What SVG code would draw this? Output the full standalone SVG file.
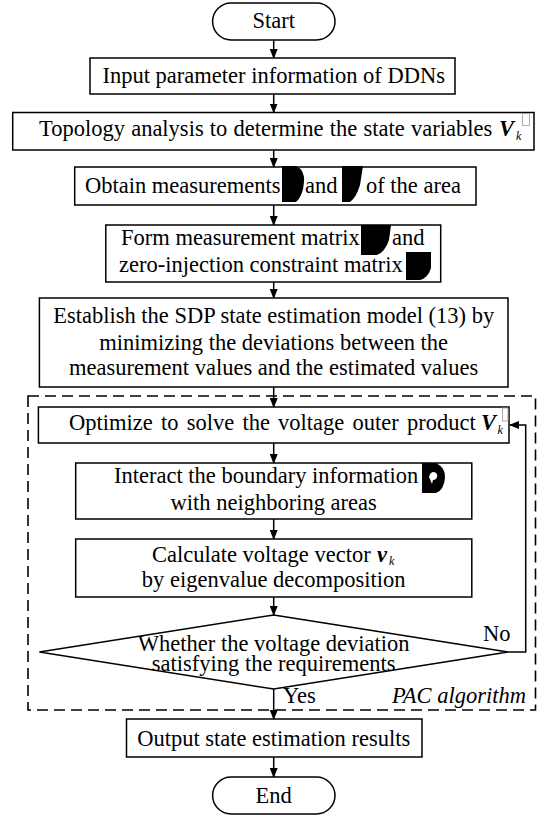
<svg xmlns="http://www.w3.org/2000/svg" width="542" height="815" viewBox="0 0 542 815">
<style>
.box{fill:#fff;stroke:#000;stroke-width:1.5}
.t{font-family:"Liberation Serif","Times New Roman",serif;font-size:22.5px;fill:#000}
.c{text-anchor:middle}
.bi{font-weight:bold;font-style:italic}
.sub{font-style:italic;font-size:12px}
.ln{stroke:#000;stroke-width:1.5;fill:none}
.blob{fill:#000}
.tofu{fill:none;stroke:#999;stroke-width:0.8}
.dash{fill:none;stroke:#000;stroke-width:1.6;stroke-dasharray:11 6}
</style>
<defs>
<marker id="ah" markerWidth="10" markerHeight="8" refX="9" refY="4" orient="auto" markerUnits="userSpaceOnUse"><path d="M0,0 L10,4 L0,8 z" fill="#000"/></marker>
</defs>
<rect width="542" height="815" fill="#fff"/>
<g id="pac-region">
<rect class="dash" x="28" y="396" width="507.5" height="314"/>
<text class="t" x="392" y="703" font-style="italic">PAC algorithm</text>
</g>
<g id="connectors">
<line class="ln" x1="273.7" y1="40" x2="273.7" y2="58" marker-end="url(#ah)"/>
<line class="ln" x1="273.7" y1="94" x2="273.7" y2="112.5" marker-end="url(#ah)"/>
<line class="ln" x1="273.7" y1="150" x2="273.7" y2="167" marker-end="url(#ah)"/>
<line class="ln" x1="273.7" y1="205" x2="273.7" y2="225" marker-end="url(#ah)"/>
<line class="ln" x1="273.7" y1="282" x2="273.7" y2="298" marker-end="url(#ah)"/>
<line class="ln" x1="273.7" y1="387" x2="273.7" y2="407" marker-end="url(#ah)"/>
<line class="ln" x1="273.7" y1="443" x2="273.7" y2="463" marker-end="url(#ah)"/>
<line class="ln" x1="273.7" y1="519" x2="273.7" y2="539" marker-end="url(#ah)"/>
<line class="ln" x1="273.7" y1="597" x2="273.7" y2="615" marker-end="url(#ah)"/>
<line class="ln" x1="273.7" y1="689" x2="273.7" y2="719" marker-end="url(#ah)"/>
<line class="ln" x1="273.7" y1="757" x2="273.7" y2="777" marker-end="url(#ah)"/>
<polyline class="ln" points="508,652 525.7,652 525.7,425 510,425" marker-end="url(#ah)"/>
<text class="t" x="483" y="641">No</text>
<text class="t" x="283" y="703">Yes</text>
</g>
<g id="start">
<rect class="box" x="212.6" y="3" width="122.4" height="37" rx="18.5"/>
<text class="t c" x="273.7" y="28">Start</text>
</g>
<g id="input">
<rect class="box" x="90" y="58" width="365" height="36"/>
<text class="t c" x="273.7" y="83">Input parameter information of DDNs</text>
</g>
<g id="topology">
<rect class="box" x="12.7" y="112.5" width="521.3" height="37.5"/>
<text class="t" x="39" y="136" word-spacing="0.6">Topology analysis to determine the state variables<tspan class="bi" x="499">V</tspan><tspan class="sub" x="516" dy="4">k</tspan></text>
<rect class="tofu" x="522.5" y="113.5" width="7" height="12"/>
</g>
<g id="obtain">
<rect class="box" x="74.7" y="167" width="401.3" height="38"/>
<text class="t" x="85" y="193">Obtain measurements</text>
<path class="blob" d="M282,166 L296,166 Q305,170 304,182 Q303,196 296,202 L282,202 Z"/>
<text class="t" x="305" y="193">and</text>
<path class="blob" d="M342,166 L363,166 L360,185 Q356,198 350,202 L342,202 Z"/>
<text class="t" x="366" y="193">of the area</text>
</g>
<g id="form">
<rect class="box" x="105.8" y="225" width="334.9" height="57"/>
<text class="t" x="121" y="245">Form measurement matrix</text>
<path class="blob" d="M361,225 L391,225 L389,240 Q385,252 377,255 L361,255 Z"/>
<text class="t" x="392" y="245">and</text>
<text class="t" x="119" y="272">zero-injection constraint matrix</text>
<path class="blob" d="M406,252 L431,252 L431,268 Q428,278 420,280 L406,280 Z"/>
</g>
<g id="establish">
<rect class="box" x="39.4" y="298" width="468.6" height="89"/>
<text class="t c" x="273.7" y="323">Establish the SDP state estimation model (13) by</text>
<text class="t c" x="273.7" y="350">minimizing the deviations between the</text>
<text class="t c" x="273.7" y="375">measurement values and the estimated values</text>
</g>
<g id="optimize">
<rect class="box" x="38.4" y="407" width="470.6" height="36"/>
<text class="t" x="69" y="430" word-spacing="2.6">Optimize to solve the voltage outer product<tspan class="bi" x="481">V</tspan><tspan class="sub" x="497.5" dy="4">k</tspan></text>
<rect class="tofu" x="502.5" y="408" width="5.5" height="13"/>
</g>
<g id="interact">
<rect class="box" x="75.7" y="463" width="396.1" height="56"/>
<text class="t" x="114" y="483">Interact the boundary information</text>
<path class="blob" d="M422,463 L436,463 Q446,468 445,478 Q444,490 436,493 L422,493 Z"/>
<path d="M429,477 Q430,472 434,472 Q438,473 437,477 Q436,480 433,480 L432,484 Z" fill="#fff"/>
<text class="t c" x="273.7" y="510">with neighboring areas</text>
</g>
<g id="calculate">
<rect class="box" x="75.7" y="539" width="396.1" height="58"/>
<text class="t" x="152" y="562">Calculate voltage vector<tspan class="bi" x="377">v</tspan><tspan class="sub" x="389" dy="3">k</tspan></text>
<text class="t c" x="273.7" y="587">by eigenvalue decomposition</text>
</g>
<g id="decision">
<polygon class="box" points="273.7,615 508,652 273.7,689 39.4,652"/>
<text class="t c" x="273.7" y="651">Whether the voltage deviation</text>
<text class="t c" x="273.7" y="671">satisfying the requirements</text>
</g>
<g id="output">
<rect class="box" x="126.5" y="719" width="295.5" height="38"/>
<text class="t c" x="273.7" y="746">Output state estimation results</text>
</g>
<g id="end">
<rect class="box" x="212.6" y="777" width="122.4" height="37" rx="18.5"/>
<text class="t c" x="273.7" y="803">End</text>
</g>
</svg>
